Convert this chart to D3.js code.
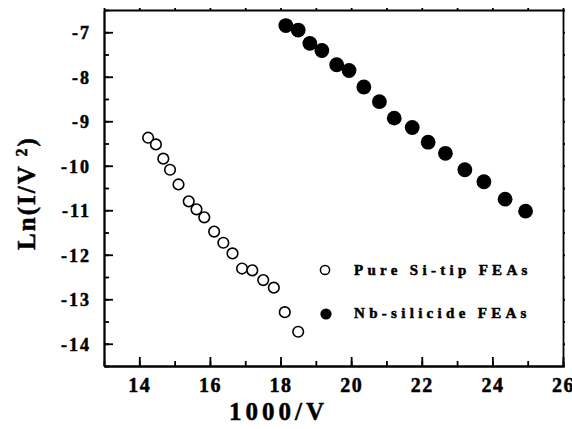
<!DOCTYPE html>
<html>
<head>
<meta charset="utf-8">
<script src="https://cdn.jsdelivr.net/npm/d3@7"></script>
<style>
    body { margin: 0; background: #fff; }
    .axis path, .axis line { stroke: #000; stroke-width: 1.8; }
</style>
</head>
<body>
<div id="chart"></div>
<script>
// Pure Si-tip FEAs (open circles)
var siX = [14.25, 14.47, 14.68, 14.87, 15.11, 15.40, 15.62, 15.84, 16.12, 16.38, 16.64, 16.91, 17.20, 17.51, 17.81, 18.12, 18.50];
var siY = [-9.37, -9.52, -9.84, -10.09, -10.42, -10.80, -10.98, -11.16, -11.48, -11.73, -11.97, -12.31, -12.35, -12.57, -12.74, -13.29, -13.73];
// Nb-silicide FEAs (filled circles)
var nbX = [18.15, 18.50, 18.83, 19.17, 19.59, 19.94, 20.36, 20.80, 21.22, 21.73, 22.18, 22.67, 23.22, 23.76, 24.36, 24.94];
var nbY = [-6.85, -6.95, -7.25, -7.41, -7.73, -7.86, -8.23, -8.56, -8.93, -9.14, -9.47, -9.72, -10.09, -10.36, -10.75, -11.02];
var xTicks = [14, 16, 18, 20, 22, 24, 26];
var yTicks = [-7, -8, -9, -10, -11, -12, -13, -14];
var legendLabels = ["Pure Si-tip FEAs", "Nb-silicide FEAs"];

var FONT = "'Liberation Serif', 'Times New Roman', serif";
var width = 572, height = 429;
var margin = {left: 104, right: 9, top: 10, bottom: 63};

var svg = d3.select("#chart").append("svg")
    .attr("width", width)
    .attr("height", height);

var x = d3.scaleLinear().domain([13, 26]).range([margin.left, width - margin.right]);
var y = d3.scaleLinear().domain([-14.5, -6.5]).range([height - margin.bottom, margin.top]);

var xMinor = d3.range(13, 26.01, 1);
var yMinor = d3.range(-14.5, -6.49, 0.5);

function boldText(sel, size, spacing) {
    sel.attr("font-family", FONT)
        .attr("font-weight", "bold")
        .attr("font-size", size)
        .attr("letter-spacing", spacing)
        .attr("fill", "#000")
        .attr("stroke", "#000")
        .attr("stroke-width", 0.5);
}

//下方主刻度
var gx = svg.append("g").attr("class", "axis")
    .attr("transform", "translate(0," + y.range()[0] + ")")
    .call(d3.axisBottom(x).tickValues(xTicks).tickSizeInner(-9).tickSizeOuter(0).tickPadding(6).tickFormat(d3.format("d")));
gx.selectAll("text").call(boldText, 20, 1.5).attr("dy", "1em");
svg.append("g").attr("class", "axis")
    .attr("transform", "translate(0," + y.range()[0] + ")")
    .call(d3.axisBottom(x).tickValues(xMinor).tickSizeInner(-5).tickSizeOuter(0).tickFormat(""));

//左侧主刻度
var gy = svg.append("g").attr("class", "axis")
    .attr("transform", "translate(" + x.range()[0] + ",0)")
    .call(d3.axisLeft(y).tickValues(yTicks).tickSizeInner(-9).tickSizeOuter(0).tickPadding(13)
        .tickFormat(function (d) { return "-" + Math.abs(d); }));
gy.selectAll("text").call(boldText, 18, 2).attr("dy", "0.35em");
svg.append("g").attr("class", "axis")
    .attr("transform", "translate(" + x.range()[0] + ",0)")
    .call(d3.axisLeft(y).tickValues(yMinor).tickSizeInner(-5).tickSizeOuter(0).tickFormat(""));

//上方和右侧
svg.append("g").attr("class", "axis")
    .attr("transform", "translate(0," + y.range()[1] + ")")
    .call(d3.axisTop(x).tickValues(xMinor).tickSizeInner(2).tickSizeOuter(0).tickFormat(""));
svg.append("g").attr("class", "axis")
    .attr("transform", "translate(" + x.range()[1] + ",0)")
    .call(d3.axisRight(y).tickValues(yMinor).tickSizeInner(2).tickSizeOuter(0).tickFormat(""));

// 数据点
svg.append("g").selectAll("circle")
    .data(d3.zip(siX, siY))
    .enter().append("circle")
    .attr("cx", function (d) { return x(d[0]); })
    .attr("cy", function (d) { return y(d[1]); })
    .attr("r", 5.3)
    .attr("fill", "#fff")
    .attr("stroke", "#000")
    .attr("stroke-width", 1.6);

svg.append("g").selectAll("circle")
    .data(d3.zip(nbX, nbY))
    .enter().append("circle")
    .attr("cx", function (d) { return x(d[0]); })
    .attr("cy", function (d) { return y(d[1]); })
    .attr("r", 7.4)
    .attr("fill", "#000");

// legend
var legend = svg.append("g");
legend.append("circle").attr("cx", 325).attr("cy", 270).attr("r", 4.6)
    .attr("fill", "#fff").attr("stroke", "#000").attr("stroke-width", 1.5);
legend.append("circle").attr("cx", 326).attr("cy", 314).attr("r", 5.6).attr("fill", "#000");
legend.selectAll("text")
    .data(legendLabels)
    .enter().append("text")
    .attr("x", 354)
    .attr("y", function (d, i) { return 275 + i * 43; })
    .call(boldText, 15, 4.3)
    .text(function (d) { return d; });

// axis titles
svg.append("text")
    .attr("x", (x.range()[0] + x.range()[1]) / 2 - 55)
    .attr("y", 420)
    .attr("text-anchor", "middle")
    .call(boldText, 25, 4)
    .text("1000/V");

var yt = svg.append("text")
    .attr("transform", "translate(35,193) rotate(-90)")
    .attr("text-anchor", "middle")
    .call(boldText, 25, 2);
yt.append("tspan").text("Ln(I/V ");
yt.append("tspan").attr("dy", "-8").attr("font-size", 16).text("2");
yt.append("tspan").attr("dy", "8").text(")");
</script>
</body>
</html>
